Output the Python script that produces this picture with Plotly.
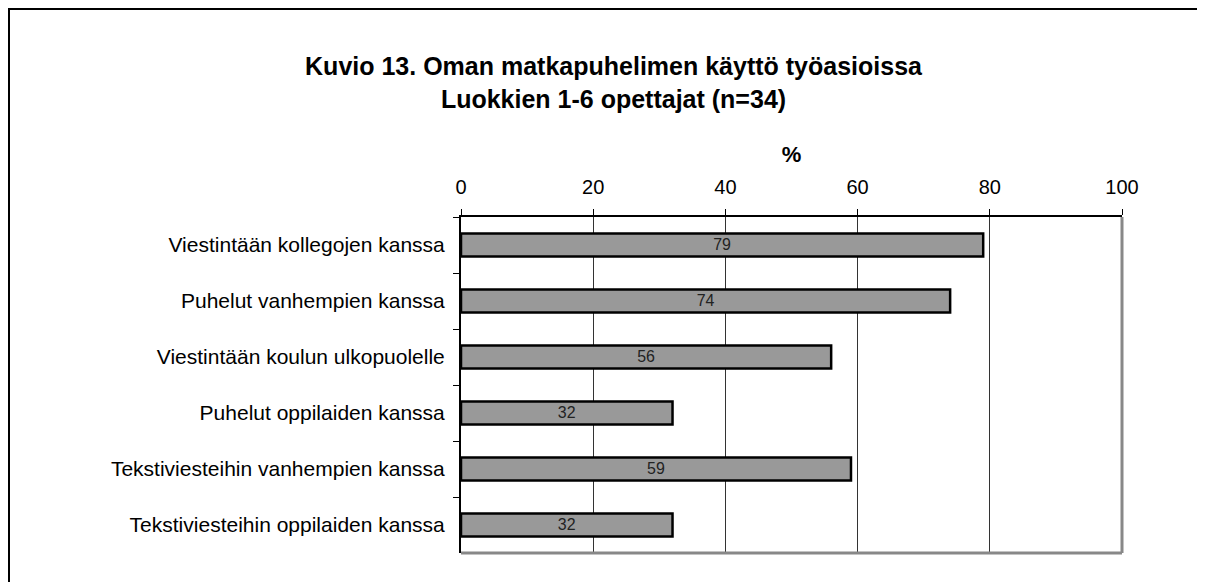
import plotly.graph_objects as go

categories = [
    "Viestintään kollegojen kanssa",
    "Puhelut vanhempien kanssa",
    "Viestintään koulun ulkopuolelle",
    "Puhelut oppilaiden kanssa",
    "Tekstiviesteihin vanhempien kanssa",
    "Tekstiviesteihin oppilaiden kanssa",
]
values = [79, 74, 56, 32, 59, 32]
x_ticks = [0, 20, 40, 60, 80, 100]

title_lines = ["Kuvio 13. Oman matkapuhelimen käyttö työasioissa",
               "Luokkien 1-6 opettajat (n=34)"]

fig = go.Figure()
fig.add_trace(go.Bar(
    x=values, y=categories, orientation="h",
    marker=dict(color="#999999", line=dict(color="black", width=2.5)),
    text=values, textposition="inside", insidetextanchor="middle",
    textangle=0,
    textfont=dict(size=16, color="#222222", family="Arial, Liberation Sans"),
    cliponaxis=False,
))

# the page puts the figure 8px in from the window edge
OFF = 8
W, H = 1205, 582
L, T = 461 - OFF, 217 - OFF
R, B = W - (1122 - OFF), H - (553 - OFF)
pw, ph = W - L - R, H - T - B

def px_x(p):
    return (p - L) / pw

def px_y(p):
    return 1 - (p - T) / ph

fig.update_layout(
    width=W, height=H,
    margin=dict(l=L, r=R, t=T, b=B),
    paper_bgcolor="white", plot_bgcolor="white",
    font=dict(family="Arial, Liberation Sans", color="black", size=21),
    showlegend=False,
    bargap=0.59,
    title=dict(
        text="<b>" + "<br>".join(title_lines) + "</b>",
        x=(613.5 - OFF) / W, xanchor="center", y=1 - 67 / H, yanchor="top",
        font=dict(size=25),
    ),
    xaxis=dict(
        side="top", range=[0, 100], tickvals=x_ticks,
        showgrid=True, gridcolor="#333333", gridwidth=1,
        showline=True, linecolor="black", linewidth=1.5,
        ticks="outside", ticklen=6, tickcolor="black", tickwidth=1,
        ticklabelstandoff=7,
        tickfont=dict(size=20),
        title=dict(text="<b>%</b>", font=dict(size=22), standoff=8),
        zeroline=False, fixedrange=True, automargin=False,
    ),
    yaxis=dict(
        autorange="reversed",
        categoryorder="array", categoryarray=categories,
        showline=True, linecolor="black", linewidth=2,
        ticks="outside", ticklen=6, tickcolor="black", tickwidth=1,
        tickson="boundaries", ticklabelstandoff=10,
        tickfont=dict(size=21),
        showgrid=False, zeroline=False, fixedrange=True, automargin=False,
    ),
    shapes=[
        # gray bottom and right frame of plot area
        dict(type="line", xref="paper", yref="paper", x0=0, x1=1, y0=0, y1=0,
             line=dict(color="#888888", width=3)),
        dict(type="line", xref="paper", yref="paper", x0=1, x1=1, y0=0, y1=1,
             line=dict(color="#888888", width=3)),
        # outer chart border
        dict(type="rect", xref="paper", yref="paper",
             x0=px_x(1), x1=px_x(1230), y0=px_y(610), y1=px_y(1),
             line=dict(color="black", width=2), layer="below"),
    ],
)

fig.write_html("out.html")
